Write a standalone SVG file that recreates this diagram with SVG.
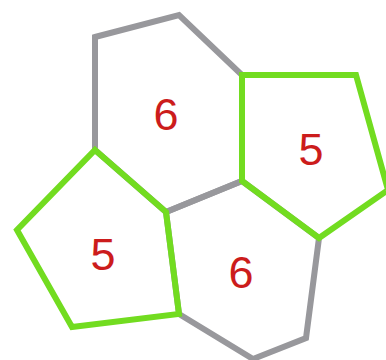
<svg xmlns="http://www.w3.org/2000/svg" width="386" height="360" viewBox="0 0 386 360">
<style>
.hex{fill:none;stroke:#98989c;stroke-width:6;stroke-linejoin:miter}
.pent{fill:none;stroke:#72dc20;stroke-width:6;stroke-linejoin:miter}
.lbl{font-family:"Liberation Sans",Arial,sans-serif;font-size:45px;fill:#cc1c1c;text-anchor:middle}
</style>
<rect width="386" height="360" fill="#fff"/>
<g id="hex-top">
<polygon class="hex" points="95,37 179,15 242,75 242,181 166,212 95,150"/>
<text class="lbl" x="166" y="130">6</text>
</g>
<g id="hex-bottom">
<polygon class="hex" points="166,212 242,181 319,238 306,338 253,359 179,314"/>
<text class="lbl" x="241" y="288">6</text>
</g>
<g id="pent-right">
<polygon class="pent" points="242,75 356,75 388,190 319,238 242,181"/>
<text class="lbl" x="311" y="165">5</text>
</g>
<g id="pent-left">
<polygon class="pent" points="95,150 166,212 179,314 72,327 17,230"/>
<text class="lbl" x="103" y="270">5</text>
</g>
<g id="connectors"></g>
</svg>
